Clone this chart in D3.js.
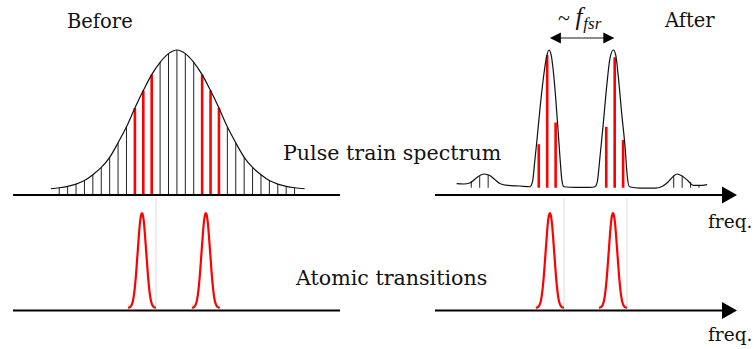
<!DOCTYPE html>
<html>
<head>
<meta charset="utf-8">
<script src="https://cdn.jsdelivr.net/npm/d3@7"></script>
<style>
  body { margin: 0; background: #fff; }
  text { font-family: "DejaVu Serif", "Liberation Serif", serif; fill: #111; }
</style>
</head>
<body>
<svg id="chart" width="754" height="349"></svg>
<script>
// Frequencies are in comb-mode units (1 = one comb spacing), amplitudes are normalised to the peak.

// Broad pulse-train envelope before filtering
const beforeEnvelope = [
  [-15, 0.043], [-14, 0.05], [-13, 0.06], [-12, 0.075], [-11, 0.10], [-10, 0.14],
  [-9, 0.19], [-8, 0.26], [-7, 0.36], [-6, 0.47], [-5, 0.60], [-4, 0.72],
  [-3, 0.83], [-2, 0.915], [-1, 0.975], [0, 1.0], [1, 0.975], [2, 0.915],
  [3, 0.83], [4, 0.72], [5, 0.60], [6, 0.47], [7, 0.36], [8, 0.26], [9, 0.19],
  [10, 0.14], [11, 0.10], [12, 0.075], [13, 0.06], [14, 0.05], [15.2, 0.043]
];
// Comb modes that sit on the atomic transitions
const resonantModes = [-5, -4, -3, 3, 4, 5];

// Filtered spectrum after the cavity
const afterEnvelope = [
  [-14.73, 0.079], [-13.9, 0.076], [-13.18, 0.083], [-12.47, 0.114], [-11.88, 0.138],
  [-11.4, 0.145], [-10.81, 0.134], [-10.21, 0.107], [-9.62, 0.079], [-8.67, 0.066],
  [-7.24, 0.062], [-6.06, 0.057], [-5.74, 0.092], [-5.46, 0.241], [-5.26, 0.352],
  [-4.87, 0.586], [-4.48, 0.793], [-4.07, 0.954], [-3.8, 1.0], [-3.53, 0.966],
  [-3.21, 0.816], [-2.77, 0.494], [-2.49, 0.264], [-2.26, 0.103], [-2.02, 0.057],
  [-0.71, 0.052], [1.07, 0.052], [1.66, 0.057], [1.94, 0.092], [2.26, 0.264],
  [2.65, 0.494], [3.05, 0.747], [3.44, 0.943], [3.84, 1.0], [4.12, 0.966],
  [4.43, 0.816], [4.83, 0.563], [5.23, 0.333], [5.5, 0.126], [5.74, 0.057],
  [7.01, 0.048], [8.79, 0.048], [9.62, 0.059], [10.33, 0.09], [10.93, 0.128],
  [11.4, 0.145], [11.99, 0.131], [12.71, 0.097], [13.3, 0.066], [14.13, 0.066],
  [14.96, 0.072]
];
const afterFloor = 0.05;
const afterResonant = [[-5, 0.35], [-4, 0.965], [-3, 0.50], [3, 0.47], [4, 0.95], [5, 0.38]];
const afterSideModes = [[-13, 0.095], [-12, 0.13], [-11, 0.14], [11, 0.135], [12, 0.13], [13, 0.09], [14, 0.066]];
const afterPeaks = [-3.8, 3.84];

// Atomic transitions
const atomicBefore = [-4.16, 3.44];
const atomicAfter = [-3.68, 3.8];
const atomicProfile = [
  [0, 1.0], [0.119, 0.975], [0.238, 0.9], [0.356, 0.78], [0.475, 0.64], [0.594, 0.5],
  [0.713, 0.36], [0.831, 0.25], [0.95, 0.16], [1.069, 0.1], [1.188, 0.065],
  [1.306, 0.045], [1.425, 0.035], [1.544, 0.03], [1.663, 0.028]
];

const labels = {
  before: "Before", after: "After", pulse: "Pulse train spectrum",
  atomic: "Atomic transitions", axis: "freq.", fsr: "fsr"
};

const svg = d3.select("#chart");

// Scales
const xL = d3.scaleLinear().domain([-19.5, 19.4]).range([13, 340]);
const xR = d3.scaleLinear().domain([-17.3, 18.5]).range([435, 737]);
const yTop = d3.scaleLinear().domain([0, 1]).range([195, 50]);
const yBot = d3.scaleLinear().domain([0, 1]).range([310.5, 213]);

// faint guide lines linking the transitions to the comb
const guideG = svg.append("g");
const edge = atomicProfile[atomicProfile.length - 1][0];
guideG.append("line")
  .attr("x1", xL(atomicBefore[0] + edge)).attr("x2", xL(atomicBefore[0] + edge))
  .attr("y1", 198).attr("y2", yBot(0.03))
  .attr("stroke", "#dcdcdc").attr("stroke-width", 1);
guideG.append("line")
  .attr("x1", xL(atomicBefore[1] + edge)).attr("x2", xL(atomicBefore[1] + edge))
  .attr("y1", yBot(1)).attr("y2", yBot(0.1))
  .attr("stroke", "#dedede").attr("stroke-width", 1).attr("stroke-dasharray", "1 17");
atomicAfter.forEach(c => {
  guideG.append("line")
    .attr("x1", xR(c + edge)).attr("x2", xR(c + edge))
    .attr("y1", 198).attr("y2", yBot(0.03))
    .attr("stroke", "#dcdcdc").attr("stroke-width", 1);
});

// ---- Before: comb under the broad envelope ----
const combBefore = beforeEnvelope.filter(d => Number.isInteger(d[0]) && Math.abs(d[0]) <= 14);
svg.append("g").selectAll("line")
  .data(combBefore.filter(d => !resonantModes.includes(d[0])))
  .join("line")
  .attr("x1", d => xL(d[0])).attr("x2", d => xL(d[0]))
  .attr("y1", yTop(0)).attr("y2", d => yTop(d[1]))
  .attr("stroke", "#222").attr("stroke-width", 1);
svg.append("g").selectAll("line")
  .data(combBefore.filter(d => resonantModes.includes(d[0])))
  .join("line")
  .attr("x1", d => xL(d[0])).attr("x2", d => xL(d[0]))
  .attr("y1", yTop(0)).attr("y2", d => yTop(d[1]))
  .attr("stroke", "#ff0000").attr("stroke-width", 2.6);

const lineL = d3.line().x(d => xL(d[0])).y(d => yTop(d[1])).curve(d3.curveMonotoneX);
svg.append("path").attr("d", lineL(beforeEnvelope))
  .attr("fill", "none").attr("stroke", "#111").attr("stroke-width", 1.2);

// ---- After: filtered spectrum ----
svg.append("g").selectAll("line")
  .data(afterSideModes).join("line")
  .attr("x1", d => xR(d[0])).attr("x2", d => xR(d[0]))
  .attr("y1", yTop(afterFloor)).attr("y2", d => yTop(d[1]))
  .attr("stroke", "#222").attr("stroke-width", 1);
svg.append("g").selectAll("line")
  .data(afterResonant).join("line")
  .attr("x1", d => xR(d[0])).attr("x2", d => xR(d[0]))
  .attr("y1", yTop(afterFloor)).attr("y2", d => yTop(d[1]))
  .attr("stroke", "#ff0000").attr("stroke-width", 2.6);

const lineR = d3.line().x(d => xR(d[0])).y(d => yTop(d[1])).curve(d3.curveMonotoneX);
svg.append("path").attr("d", lineR(afterEnvelope))
  .attr("fill", "none").attr("stroke", "#111").attr("stroke-width", 1.2);

// ---- Atomic transition lines ----
const fullProfile = atomicProfile.slice(1).reverse().map(d => [-d[0], d[1]]).concat(atomicProfile);
function drawAtomic(x, centres) {
  const ln = d3.line().x(d => x(d[0])).y(d => yBot(d[1])).curve(d3.curveMonotoneX);
  centres.forEach(c => {
    svg.append("path")
      .attr("d", ln(fullProfile.map(d => [c + d[0], d[1]])))
      .attr("fill", "none").attr("stroke", "#ff0000").attr("stroke-width", 2.2);
  });
}
drawAtomic(xL, atomicBefore);
drawAtomic(xR, atomicAfter);

// ---- Axes ----
function plainAxis(x, y) {
  svg.append("line").attr("x1", x.range()[0]).attr("x2", x.range()[1])
    .attr("y1", y(0)).attr("y2", y(0)).attr("stroke", "#000").attr("stroke-width", 2);
}
function arrowAxis(x, y) {
  const [x0, x1] = x.range();
  const y0 = y(0);
  svg.append("line").attr("x1", x0).attr("x2", x1 - 10)
    .attr("y1", y0).attr("y2", y0).attr("stroke", "#000").attr("stroke-width", 2);
  svg.append("path")
    .attr("d", `M${x1},${y0} L${x1 - 15},${y0 - 8.5} L${x1 - 15},${y0 + 8.5} Z`)
    .attr("fill", "#000");
}
plainAxis(xL, yTop);
plainAxis(xL, yBot);
arrowAxis(xR, yTop);
arrowAxis(xR, yBot);

// ---- FSR marker ----
const ya = 38;
const xa0 = xR(afterPeaks[0]) + 1, xa1 = xR(afterPeaks[1]) + 1;
svg.append("line").attr("x1", xa0 + 8).attr("x2", xa1 - 8)
  .attr("y1", ya).attr("y2", ya).attr("stroke", "#666").attr("stroke-width", 1.6);
svg.append("path").attr("d", `M${xa0},${ya} L${xa0 + 11},${ya - 5.5} L${xa0 + 11},${ya + 5.5} Z`).attr("fill", "#000");
svg.append("path").attr("d", `M${xa1},${ya} L${xa1 - 11},${ya - 5.5} L${xa1 - 11},${ya + 5.5} Z`).attr("fill", "#000");

const fsr = svg.append("text").attr("x", 558).attr("y", 25)
  .style("font-family", "'Liberation Serif', serif").style("font-size", "22px");
fsr.append("tspan").text("~ ");
fsr.append("tspan").text("f").style("font-style", "italic").style("font-size", "25px");
fsr.append("tspan").text(labels.fsr).attr("dy", 4).attr("dx", 1)
  .style("font-style", "italic").style("font-size", "17px");

// ---- Labels ----
const fs = "20px";
svg.append("text").attr("x", 67).attr("y", 28).style("font-size", "19.5px").text(labels.before);
svg.append("text").attr("x", 665).attr("y", 27).style("font-size", "19.5px").text(labels.after);
svg.append("text").attr("x", 283).attr("y", 160).style("font-size", "20.6px").text(labels.pulse);
svg.append("text").attr("x", 296).attr("y", 285).style("font-size", "20.6px").text(labels.atomic);
svg.append("text").attr("x", 708).attr("y", 228).style("font-size", "18.5px").text(labels.axis);
svg.append("text").attr("x", 708).attr("y", 341).style("font-size", "18.5px").text(labels.axis);
</script>
</body>
</html>
